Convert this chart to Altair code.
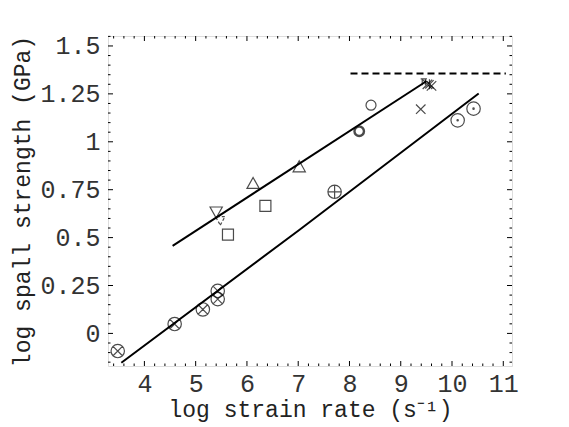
import altair as alt
import pandas as pd

# ---- data ----
otimes_x = [3.48, 4.59, 5.14, 5.43, 5.43]
otimes_y = [-0.092, 0.049, 0.125, 0.222, 0.179]
oplus_x = [7.71]
oplus_y = [0.739]
odot_x = [10.11, 10.42]
odot_y = [1.112, 1.173]
circ_x = [8.42]
circ_y = [1.191]
circb_x = [8.19]
circb_y = [1.055]
cross_x = [9.39, 9.52, 9.60]
cross_y = [1.170, 1.300, 1.292]
star_x = [9.56]
star_y = [1.300]
ibeam_x = [9.45]
ibeam_y = [1.312]
tri_x = [6.12, 7.02]
tri_y = [0.782, 0.869]
tridn_x = [5.40]
tridn_y = [0.634]
tridn2_x = [5.48]
tridn2_y = [0.590]
sq_x = [6.36, 5.63]
sq_y = [0.666, 0.516]

upper_x = [4.55, 9.50]
upper_y = [0.457, 1.316]
lower_x = [3.55, 7.02, 10.52]
lower_y = [-0.153, 0.540, 1.252]
dash_x = [8.02, 11.05]
dash_y = [1.356, 1.356]

x_major = [4, 5, 6, 7, 8, 9, 10, 11]
x_minor = [3.4, 3.6, 3.8, 4.2, 4.4, 4.6, 4.8, 5.2, 5.4, 5.6, 5.8, 6.2, 6.4, 6.6, 6.8,
           7.2, 7.4, 7.6, 7.8, 8.2, 8.4, 8.6, 8.8, 9.2, 9.4, 9.6, 9.8, 10.2, 10.4,
           10.6, 10.8]
y_major = [0, 0.25, 0.5, 0.75, 1.0, 1.25, 1.5]
y_minor = [-0.15, -0.1, -0.05, 0.05, 0.1, 0.15, 0.2, 0.3, 0.35, 0.4, 0.45, 0.55, 0.6,
           0.65, 0.7, 0.8, 0.85, 0.9, 0.95, 1.05, 1.1, 1.15, 1.2, 1.3, 1.35, 1.4, 1.45, 1.55]

W, H = 404, 330
FONT = "Liberation Mono"
LFS = 25
xs = alt.Scale(domain=[3.29, 11.17], nice=False, zero=False)
ys = alt.Scale(domain=[-0.17, 1.552], nice=False, zero=False)

AX_X = alt.Axis(values=x_major, format="d",
                ticks=False, domain=False, grid=False, labelPadding=5, titlePadding=2,
                labelFont=FONT, labelFontSize=LFS, labelColor="#333", labelLimit=300,
                labelFontWeight="normal",
                titleFont=FONT, titleFontSize=23, titleFontWeight="normal", titleColor="#222")
AX_Y = alt.Axis(values=y_major, labelExpr="format(datum.value, '.2~f')",
                ticks=False, domain=False, grid=False, labelPadding=8, titlePadding=5,
                labelFont=FONT, labelFontSize=LFS, labelColor="#333", labelLimit=300,
                labelFontWeight="normal",
                titleFont=FONT, titleFontSize=23, titleFontWeight="normal", titleColor="#222")
XT = "log strain rate (s⁻¹)"
YT = "log spall strength (GPa)"

CIRC = "M1,0A1,1 0 1,1 -1,0A1,1 0 1,1 1,0Z"
P_OTIMES = CIRC + "M-0.7,-0.7L0.7,0.7M-0.7,0.7L0.7,-0.7"
P_OPLUS = CIRC + "M-1,0L1,0M0,-1L0,1"
P_ODOT = CIRC + "M0.1,0A0.1,0.1 0 1,1 -0.1,0A0.1,0.1 0 1,1 0.1,0Z"
P_CROSS = "M-1,-1L1,1M-1,1L1,-1"
P_STAR = "M-1,-1L1,1M-1,1L1,-1M0,-1.2L0,1.2"
P_IBEAM = "M-1,-1L1,-1M-0.5,-1L-0.5,1M0.5,-1L0.5,1"
P_TRI = "M0,-1L1,0.8L-1,0.8Z"
P_TRIDN = "M0,1L1,-0.8L-1,-0.8Z"
P_SQ = "M-1,-1L1,-1L1,1L-1,1Z"


def X_(f):
    return alt.X(f, scale=xs, axis=AX_X, title=XT)


def Y_(f):
    return alt.Y(f, scale=ys, axis=AX_Y, title=YT)


def pts(xv, yv, shape, size, sw=1.2, dash=None):
    df = pd.DataFrame({"x": xv, "y": yv})
    kw = dict(shape=shape, size=size, filled=False, color="black", strokeWidth=sw)
    if dash:
        kw["strokeDash"] = dash
    return alt.Chart(df).mark_point(**kw).encode(x=X_("x:Q"), y=Y_("y:Q"))


def line(xv, yv, sw=2.0, dash=None):
    df = pd.DataFrame({"x": xv, "y": yv})
    kw = dict(color="black", strokeWidth=sw)
    if dash:
        kw["strokeDash"] = dash
    return alt.Chart(df).mark_line(**kw).encode(x=X_("x:Q"), y=Y_("y:Q"))


def xticks(vals, ln):
    df = pd.DataFrame({"x": vals})
    b = alt.Chart(df).mark_rule(color="black", strokeWidth=1)
    return (b.encode(x=X_("x:Q"), y=alt.value(H), y2=alt.value(H - ln)) +
            b.encode(x=X_("x:Q"), y=alt.value(0), y2=alt.value(ln)))


def yticks(vals, ln):
    df = pd.DataFrame({"y": vals})
    b = alt.Chart(df).mark_rule(color="black", strokeWidth=1)
    return (b.encode(y=Y_("y:Q"), x=alt.value(0), x2=alt.value(ln)) +
            b.encode(y=Y_("y:Q"), x=alt.value(W), x2=alt.value(W - ln)))


chart = alt.layer(
    line(upper_x, upper_y), line(lower_x, lower_y), line(dash_x, dash_y, dash=[7, 4]),
    xticks(x_major, 5), xticks(x_minor, 2.5),
    yticks(y_major, 5), yticks(y_minor, 2.5),
    pts(otimes_x, otimes_y, P_OTIMES, 180),
    pts(oplus_x, oplus_y, P_OPLUS, 180),
    pts(odot_x, odot_y, P_ODOT, 180),
    pts(circ_x, circ_y, CIRC, 100),
    pts(circb_x, circb_y, CIRC, 90, sw=2.4),
    pts(cross_x, cross_y, P_CROSS, 90),
    pts(star_x, star_y, P_STAR, 70),
    pts(ibeam_x, ibeam_y, P_IBEAM, 40),
    pts(tri_x, tri_y, P_TRI, 150),
    pts(tridn_x, tridn_y, P_TRIDN, 150),
    pts(tridn2_x, tridn2_y, P_TRIDN, 90, dash=[3, 2]),
    pts(sq_x, sq_y, P_SQ, 121),
).properties(
    width=W, height=H,
    autosize=alt.AutoSizeParams(type="none"),
    padding={"left": 100, "top": 28, "right": 45, "bottom": 60},
).configure_view(stroke="black", strokeWidth=1.5).configure(background="white")

chart.save("out.html", embed_options={"renderer": "svg", "actions": False})
